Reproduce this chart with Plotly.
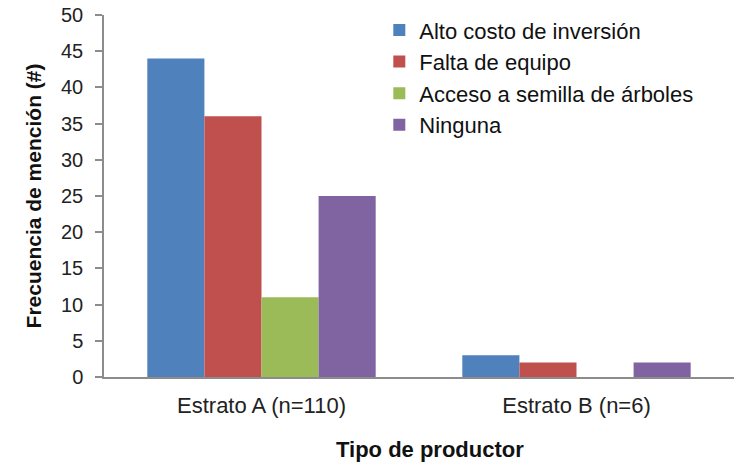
import plotly.graph_objects as go

categories = ["Estrato A (n=110)", "Estrato B (n=6)"]
series_names = ["Alto costo de inversión", "Falta de equipo",
                "Acceso a semilla de árboles", "Ninguna"]
alto_costo = [44, 3]
falta_equipo = [36, 2]
acceso_semilla = [11, 0]
ninguna = [25, 2]
colors = ["#4F81BD", "#C0504D", "#9BBB59", "#8064A2"]
y_ticks = [0, 5, 10, 15, 20, 25, 30, 35, 40, 45, 50]

font_family = "Liberation Sans, Arial, sans-serif"

fig = go.Figure()
for i, (name, vals) in enumerate(zip(series_names,
                                     [alto_costo, falta_equipo, acceso_semilla, ninguna])):
    fig.add_trace(go.Bar(
        x=categories, y=vals, name=name,
        marker=dict(color=colors[i], line=dict(width=0)),
        legendgroup=f"g{i}",
    ))

fig.update_layout(
    width=734, height=465,
    margin=dict(l=104, r=0, t=15, b=88),
    paper_bgcolor="white", plot_bgcolor="white",
    barmode="group", bargap=0.275, bargroupgap=0,
    font=dict(family=font_family, size=20, color="#222"),
    legend=dict(
        x=0.437, y=1.016, xanchor="left", yanchor="top",
        font=dict(size=22, color="#111"),
        bgcolor="rgba(0,0,0,0)",
        traceorder="grouped", tracegroupgap=0,
        itemwidth=30,
    ),
    xaxis=dict(
        showline=True, linecolor="#8c8c8c", linewidth=1.5,
        ticks="outside", ticklen=8, tickcolor="rgba(0,0,0,0)",
        showgrid=False,
        tickfont=dict(size=22, color="#222"),
    ),
    yaxis=dict(
        range=[0, 50], tickvals=y_ticks,
        showline=True, linecolor="#8c8c8c", linewidth=1.5,
        ticks="outside", ticklen=7, tickcolor="#8c8c8c", tickwidth=1.5,
        ticklabelstandoff=8,
        showgrid=False, zeroline=False,
        tickfont=dict(size=20, color="#222"),
        title=dict(text="<b>Frecuencia de mención (#)</b>",
                   font=dict(size=21, color="#111"), standoff=14),
    ),
    annotations=[dict(
        text="<b>Tipo de productor</b>", xref="paper", yref="paper",
        x=0.517, y=-0.2, xanchor="center", yanchor="middle",
        showarrow=False, font=dict(size=22, color="#111"),
    )],
)

fig.write_html("out.html")
